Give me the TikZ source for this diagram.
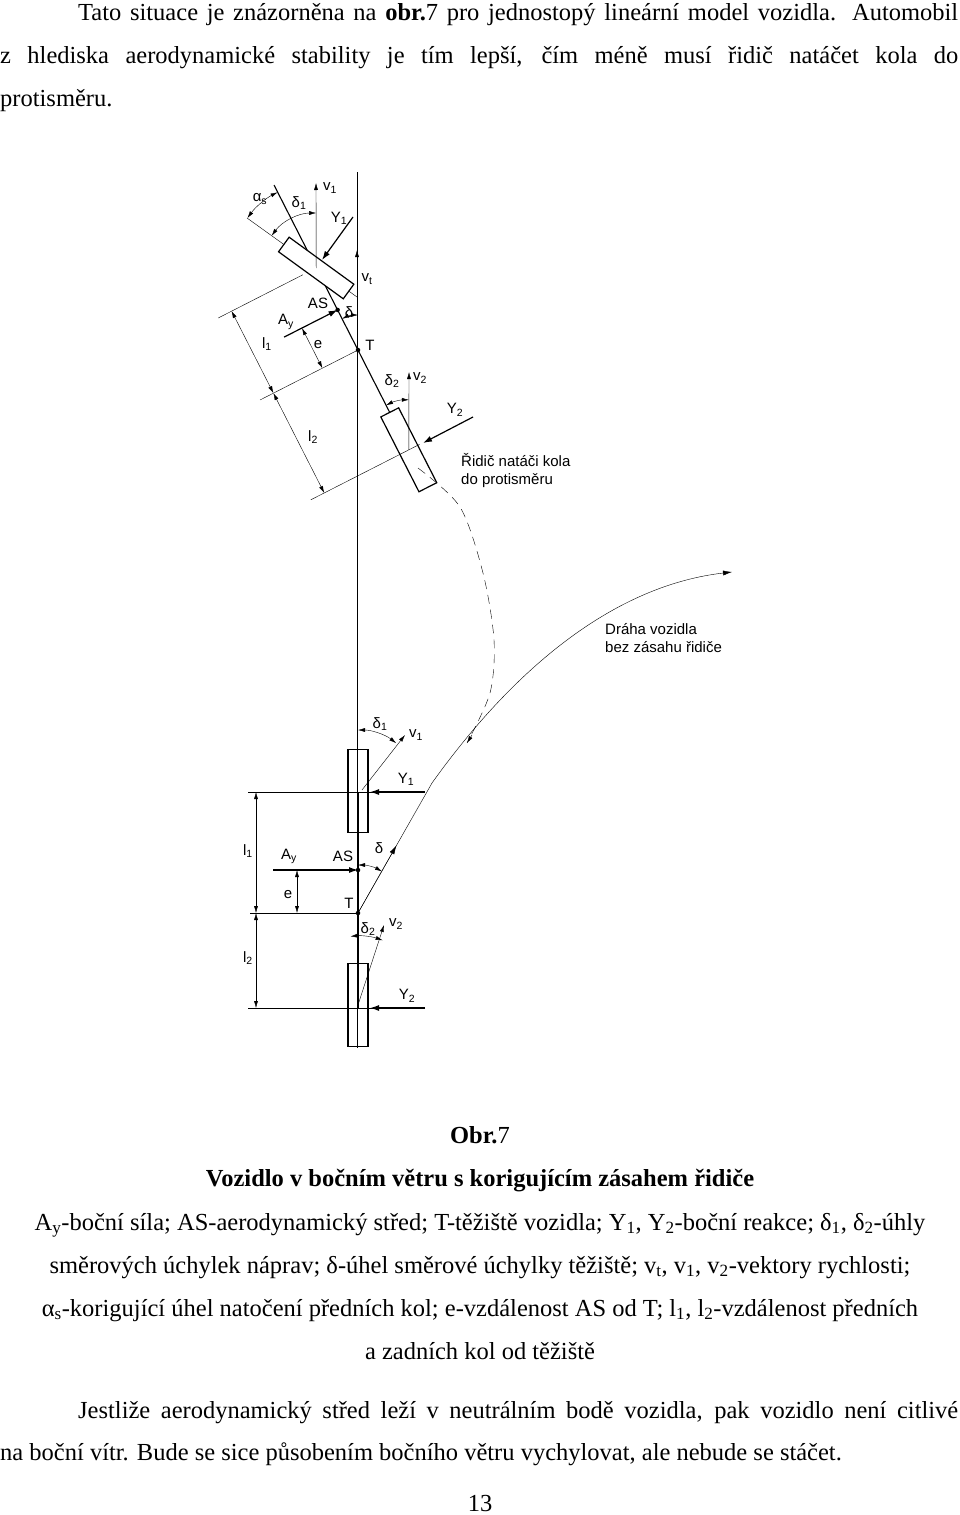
\documentclass[tikz,border=0pt]{standalone}
\usepackage{fontspec}
\setmainfont{Liberation Serif}
\newfontfamily\labfont{Liberation Sans}
\usetikzlibrary{arrows.meta,calc}
\tikzset{
  txt/.style={anchor=base west,inner sep=0pt,font=\fontsize{24.5}{28}\selectfont},
  lab/.style={inner sep=1pt,font=\labfont\fontsize{15}{18}\selectfont},
  wheel/.style={draw,line width=1.2pt,fill=white,inner sep=0pt},
  force/.style={line width=1.2pt,-{Latex[length=9pt,width=6pt]}},
  vec/.style={thin,-{Latex[length=7pt,width=4pt]}},
  dim/.style={thin,{Latex[length=7pt,width=4pt]}-{Latex[length=7pt,width=4pt]}},
  dot/.style={circle,fill,inner sep=1.6pt}
}
\begin{document}
\begin{tikzpicture}[x=1pt,y=-1pt]
  \useasboundingbox (0,0) rectangle (960,1515);

  % Text above the figure
  \node[txt] (l1) at (78,20) {\makebox[880pt][s]{Tato situace je znázorněna na \textbf{obr.}7 pro jednostopý lineární model vozidla. Automobil}};
  \node[txt] (l2) at (0,63) {\makebox[958pt][s]{z hlediska aerodynamické stability je tím lepší, čím méně musí řidič natáčet kola do}};
  \node[txt] (l3) at (0,106) {protisměru.};

  % Reference line
  \draw[thin] (357,172) -- (357,1048);

  % Upper vehicle (turned, driver corrects)
  \coordinate (T) at (358,350);
  \coordinate (AS) at (337.6,309.9);
  \coordinate (F) at (316.2,268.0);
  \coordinate (R) at (408.8,449.8);
  \draw[line width=1.1pt] (274,185) -- (418,468);
  \draw[thin] (247,218) -- (357,297);
  \node[wheel,minimum width=80pt,minimum height=18pt,rotate=-36] (fw) at (F) {};
  \node[wheel,minimum width=84pt,minimum height=20pt,rotate=-63] (rw) at (R) {};
  \draw[thin,dash pattern=on 9pt off 6pt] plot[smooth] coordinates {(418,468) (460,507) (483,573) (494,640) (490,693) (467,743)};
  \draw[thin,-{Latex[length=7pt,width=4pt]}] (472,735) -- (467,743);
  % dimensions l1, l2, e
  \draw[thin] ($(F)+(-13.4,6.8)$) -- ($(F)+(-98,50)$);
  \draw[thin] (T) -- ($(T)+(-98,50)$);
  \draw[thin] ($(R)+(10.7,-5.4)$) -- ($(R)+(-98,50)$);
  \draw[dim] ($(F)+(-84.6,43.1)$) -- ($(T)+(-84.6,43.1)$);
  \draw[dim] ($(T)+(-84.6,43.1)$) -- ($(R)+(-84.6,43.1)$);
  \node[lab] (l1top) at (267,344) {l\textsubscript{1}};
  \node[lab] (l2top) at (313,437) {l\textsubscript{2}};
  \draw[force] ($(AS)+(-53.5,27.2)$) -- (AS);
  \draw[dim] ($(AS)+(-35.6,18.2)$) -- ($(T)+(-35.6,18.2)$);
  \node[lab] (etop) at (318,345) {e};
  \node[lab] (aytop) at (286,322) {A\textsubscript{y}};
  \node[lab] (astop) at (318,303) {AS};
  \node[dot] (asdot) at (AS) {};
  \node[dot] (tdot) at (T) {};
  \node[lab] (ttop) at (370,345) {T};
  % velocities, forces, angles
  \draw[vec] (F) -- (316,183);
  \node[lab] (v1top) at (330,188) {v\textsubscript{1}};
  \draw[force] (353,217) -- (322,260);
  \node[lab] (y1top) at (339,218) {Y\textsubscript{1}};
  \draw[dim] ($(F)+(-117:85)$) arc[start angle=-117,end angle=-144,radius=85];
  \node[lab] (astxt) at (260,199) {α\textsubscript{s}};
  \draw[dim] ($(F)+(-90:55)$) arc[start angle=-90,end angle=-144,radius=55];
  \node[lab] (d1top) at (299,203) {δ\textsubscript{1}};
  \draw[vec] (357,285) -- (357,250);
  \node[lab] (vttop) at (367,279) {v\textsubscript{t}};
  \draw[dim] ($(T)+(-90:35)$) arc[start angle=-90,end angle=-117,radius=35];
  \node[lab] (dtop) at (349,312) {δ};
  \draw[vec] (R) -- (409,372);
  \node[lab] (v2top) at (420,378) {v\textsubscript{2}};
  \draw[dim] ($(R)+(-90:50)$) arc[start angle=-90,end angle=-117,radius=50];
  \node[lab] (d2top) at (392,381) {δ\textsubscript{2}};
  \draw[force] (473,417) -- (423,443);
  \node[lab] (y2top) at (455,410) {Y\textsubscript{2}};
  \node[lab,align=left,anchor=north west] (note1) at (460,452) {Řidič natáči kola\\do protisměru};

  % Lower vehicle (straight)
  \coordinate (T2) at (358,913);
  \coordinate (AS2) at (358,870);
  \coordinate (F2) at (358,792);
  \coordinate (R2) at (358,1008);
  \coordinate (P) at (432,783);
  \node[wheel,minimum width=20pt,minimum height=83pt,fill=none] (fw2) at (358,791) {};
  \node[wheel,minimum width=20pt,minimum height=83pt,fill=none] (rw2) at (358,1005) {};
  \draw[line width=1.1pt] (F2) -- (R2);
  \draw[thin] (248,792) -- (425,792);
  \draw[thin] (250,913) -- (T2);
  \draw[thin] (248,1008) -- (425,1008);
  \draw[force] (425,792) -- (370,792);
  \draw[force] (425,1008) -- (370,1008);
  \draw[dim] (256,792) -- (256,913);
  \draw[dim] (256,913) -- (256,1008);
  \draw[force] (273,870) -- (AS2);
  \draw[dim] (297,870) -- (297,913);
  \node[dot] (asdot2) at (AS2) {};
  \node[dot] (tdot2) at (T2) {};
  \draw[vec] (362,790) -- (405,735);
  \draw[vec] (358,1005) -- (384,925);
  \draw[dim] ($(F2)+(-90:62)$) arc[start angle=-90,end angle=-52,radius=62];
  \draw[dim] ($(T2)+(-90:48)$) arc[start angle=-90,end angle=-60,radius=48];
  \draw[dim] ($(R2)+(-96:72)$) arc[start angle=-96,end angle=-70,radius=72];
  \node[lab] (d1b) at (380,724) {δ\textsubscript{1}};
  \node[lab] (v1b) at (416,735) {v\textsubscript{1}};
  \node[lab] (y1b) at (406,779) {Y\textsubscript{1}};
  \node[lab] (l1b) at (248,851) {l\textsubscript{1}};
  \node[lab] (ayb) at (289,856) {A\textsubscript{y}};
  \node[lab] (asb) at (343,856) {AS};
  \node[lab] (db) at (379,848) {δ};
  \node[lab] (eb) at (288,895) {e};
  \node[lab] (tb) at (349,903) {T};
  \node[lab] (d2b) at (368,929) {δ\textsubscript{2}};
  \node[lab] (v2b) at (396,924) {v\textsubscript{2}};
  \node[lab] (y2b) at (407,996) {Y\textsubscript{2}};
  \node[lab] (l2b) at (248,958) {l\textsubscript{2}};

  % Path without driver
  \draw[thin,-{Latex[length=9pt,width=5pt]}] (T2) -- (P) .. controls (520,660) and (620,585) .. (732,572);
  \draw[thin,-{Latex[length=9pt,width=5pt]}] (T2) -- ($(T2)!0.52!(P)$);
  \node[lab,align=left,anchor=north west] (note2) at (604,622) {Dráha vozidla\\bez zásahu řidiče};

  % Caption and text below
  \node[txt,anchor=base] (c0) at (480,1143) {\textbf{Obr.}7};
  \node[txt,anchor=base] (c1) at (480,1186) {\textbf{Vozidlo v bočním větru s korigujícím zásahem řidiče}};
  \node[txt,anchor=base] (c2) at (480,1230) {A\textsubscript{y}-boční síla; AS-aerodynamický střed; T-těžiště vozidla; Y\textsubscript{1}, Y\textsubscript{2}-boční reakce; δ\textsubscript{1}, δ\textsubscript{2}-úhly};
  \node[txt,anchor=base] (c3) at (480,1273) {směrových úchylek náprav; δ-úhel směrové úchylky těžiště; v\textsubscript{t}, v\textsubscript{1}, v\textsubscript{2}-vektory rychlosti;};
  \node[txt,anchor=base] (c4) at (480,1316) {α\textsubscript{s}-korigující úhel natočení předních kol; e-vzdálenost AS od T; l\textsubscript{1}, l\textsubscript{2}-vzdálenost předních};
  \node[txt,anchor=base] (c5) at (480,1359) {a zadních kol od těžiště};
  \node[txt] (p1) at (78,1418) {\makebox[880pt][s]{Jestliže aerodynamický střed leží v neutrálním bodě vozidla, pak vozidlo není citlivé}};
  \node[txt] (p2) at (0,1460) {na boční vítr. Bude se sice působením bočního větru vychylovat, ale nebude se stáčet.};
  \node[txt,anchor=base] (pg) at (480,1511) {13};
\end{tikzpicture}
\end{document}
